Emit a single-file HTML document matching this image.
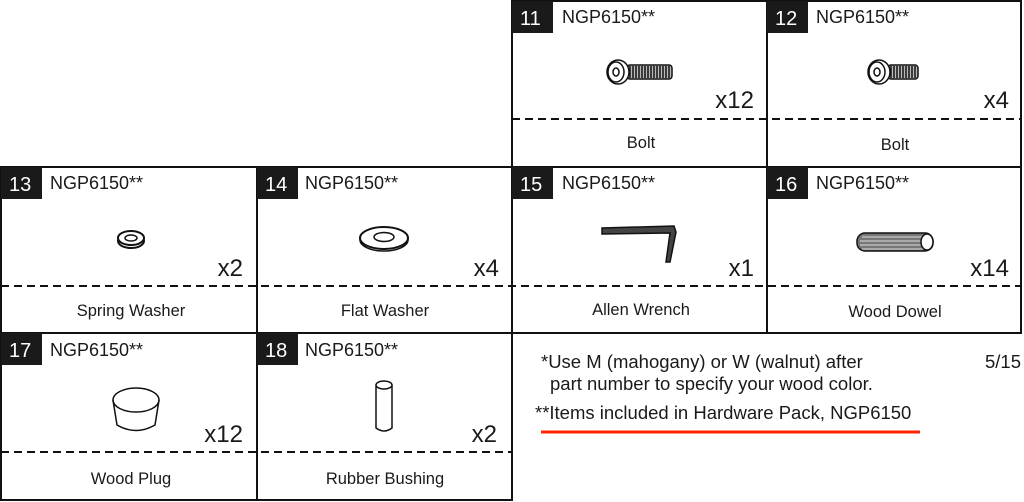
<!DOCTYPE html>
<html><head><meta charset="utf-8"><style>
html,body{margin:0;padding:0;background:#fff;width:1024px;height:502px;overflow:hidden}
svg text{font-family:"Liberation Sans",Arial,sans-serif;fill:#1a1a1a}
</style></head><body>
<svg width="1024" height="502" viewBox="0 0 1024 502" xmlns="http://www.w3.org/2000/svg">
<g stroke="#111" stroke-width="2" fill="none">
<rect x="512" y="1" width="255" height="166"/>
<rect x="767" y="1" width="254" height="166"/>
<rect x="1" y="167" width="256" height="166"/>
<rect x="257" y="167" width="255" height="166"/>
<rect x="512" y="167" width="255" height="166"/>
<rect x="767" y="167" width="254" height="166"/>
<rect x="1" y="333" width="256" height="167"/>
<rect x="257" y="333" width="255" height="167"/>
</g>
<g stroke="#111" stroke-width="2" stroke-dasharray="8,5">
<line x1="512" y1="119" x2="1021" y2="119"/>
<line x1="1" y1="286" x2="1021" y2="286"/>
<line x1="1" y1="452" x2="512" y2="452"/>
</g>
<g fill="#1a1a1a">
<rect x="512" y="1" width="41" height="32"/>
<rect x="767" y="1" width="41" height="32"/>
<rect x="1" y="167" width="41" height="32"/>
<rect x="257" y="167" width="41" height="32"/>
<rect x="512" y="167" width="41" height="32"/>
<rect x="767" y="167" width="41" height="32"/>
<rect x="1" y="333" width="41" height="32"/>
<rect x="257" y="333" width="41" height="32"/>
</g>
<g font-size="20">
<text x="520" y="25" style="fill:#fff">11</text>
<text x="775" y="25" style="fill:#fff">12</text>
<text x="9" y="191" style="fill:#fff">13</text>
<text x="265" y="191" style="fill:#fff">14</text>
<text x="520" y="191" style="fill:#fff">15</text>
<text x="775" y="191" style="fill:#fff">16</text>
<text x="9" y="357" style="fill:#fff">17</text>
<text x="265" y="357" style="fill:#fff">18</text>
</g>
<g font-size="18">
<text x="562" y="23">NGP6150**</text>
<text x="816" y="23">NGP6150**</text>
<text x="50" y="189">NGP6150**</text>
<text x="305" y="189">NGP6150**</text>
<text x="562" y="189">NGP6150**</text>
<text x="816" y="189">NGP6150**</text>
<text x="50" y="356">NGP6150**</text>
<text x="305" y="356">NGP6150**</text>
</g>
<g font-size="24" text-anchor="end">
<text x="754" y="108">x12</text>
<text x="1009" y="108">x4</text>
<text x="243" y="276">x2</text>
<text x="499" y="276">x4</text>
<text x="754" y="276">x1</text>
<text x="1009" y="276">x14</text>
<text x="243" y="442">x12</text>
<text x="497" y="442">x2</text>
</g>
<g font-size="16.5" text-anchor="middle">
<text x="641" y="148">Bolt</text>
<text x="895" y="150">Bolt</text>
<text x="131" y="316">Spring Washer</text>
<text x="385" y="316">Flat Washer</text>
<text x="641" y="315">Allen Wrench</text>
<text x="895" y="317">Wood Dowel</text>
<text x="131" y="484">Wood Plug</text>
<text x="385" y="484">Rubber Bushing</text>
</g>
<g stroke="#111" stroke-width="1.5" fill="none">
<rect x="627" y="65" width="45" height="14" rx="3" fill="#bbb"/>
<path d="M630 66 V78 M633 66 V78 M636 66 V78 M639 66 V78 M642 66 V78 M645 66 V78 M648 66 V78 M651 66 V78 M654 66 V78 M657 66 V78 M660 66 V78 M663 66 V78 M666 66 V78 M669 66 V78"/>
<ellipse cx="618" cy="72" rx="11" ry="12" fill="#fff"/>
<ellipse cx="616" cy="72" rx="8" ry="10" fill="#fff"/>
<ellipse cx="616" cy="72" rx="3" ry="4"/>
<rect x="888" y="65" width="30" height="14" rx="3" fill="#bbb"/>
<path d="M891 66 V78 M894 66 V78 M897 66 V78 M900 66 V78 M903 66 V78 M906 66 V78 M909 66 V78 M912 66 V78 M915 66 V78"/>
<ellipse cx="879" cy="72" rx="11" ry="12" fill="#fff"/>
<ellipse cx="877" cy="72" rx="8" ry="10" fill="#fff"/>
<ellipse cx="877" cy="72" rx="3" ry="4"/>
<ellipse cx="131" cy="241" rx="13" ry="7" stroke-width="2"/>
<ellipse cx="131" cy="238" rx="13" ry="7" fill="#fff" stroke-width="2"/>
<ellipse cx="131" cy="238" rx="6" ry="3"/>
<ellipse cx="384" cy="240" rx="24" ry="11"/>
<ellipse cx="384" cy="238" rx="24" ry="11" fill="#fff" stroke-width="2"/>
<ellipse cx="384" cy="237" rx="10" ry="4.5"/>
<path d="M602 228 L674 226 L676 232 L670 262 L666 262 L670 233 L602 234 Z" fill="#444"/>
<rect x="857" y="233" width="76" height="18" rx="8" fill="#777"/>
<path d="M862 237 H928 M860 241 H928 M860 245 H928 M862 249 H928" stroke="#ddd" stroke-width="1"/>
<ellipse cx="927" cy="242" rx="6" ry="8" fill="#fff"/>
<ellipse cx="136" cy="400" rx="23" ry="12" fill="#fff"/>
<path d="M113 400 L117 425 Q136 436 155 425 L159 400"/>
<path d="M376 385 V428 Q384 434 392 428 V385"/>
<ellipse cx="384" cy="385" rx="8" ry="4" fill="#fff"/>
</g>
<g font-size="18.5">
<text x="541" y="368">*Use M (mahogany) or W (walnut) after</text>
<text x="550" y="390">part number to specify your wood color.</text>
<text x="535" y="419">**Items included in Hardware Pack, NGP6150</text>
<text x="985" y="368">5/15</text>
</g>
<line x1="541" y1="432" x2="920" y2="432" stroke="#ff2200" stroke-width="3"/>
</svg>
</body></html>
